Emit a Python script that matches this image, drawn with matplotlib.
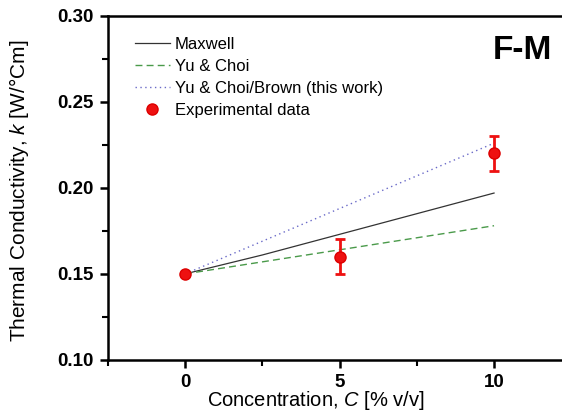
import matplotlib
matplotlib.use("Agg")
from matplotlib import pyplot as plt
from matplotlib.ticker import MultipleLocator

plt.rcParams['font.family'] = ['Liberation Sans', 'DejaVu Sans']
plt.rcParams['mathtext.fontset'] = 'custom'
plt.rcParams['mathtext.rm'] = 'Liberation Sans'
plt.rcParams['mathtext.it'] = 'Liberation Sans:italic'

# 模型曲线
conc_model = [0, 2.5, 5, 7.5, 10]
maxwell = [0.150, 0.161, 0.173, 0.185, 0.197]
yu_choi = [0.150, 0.157, 0.164, 0.171, 0.178]
yu_choi_brown = [0.150, 0.169, 0.188, 0.207, 0.226]

# 实验数据
conc_exp = [0, 5, 10]
k_exp = [0.150, 0.160, 0.220]
k_err = [0.0, 0.010, 0.010]

fig = plt.figure(figsize=(5.62, 4.18), dpi=100)
ax = fig.add_axes([0.192, 0.139, 0.808, 0.823])

ax.plot(conc_model, maxwell, color='#333333', linewidth=0.9, label='Maxwell')
ax.plot(conc_model, yu_choi, color='#4a9a4a', linewidth=1.0, linestyle=(0, (5, 3)), label='Yu & Choi')
ax.plot(conc_model, yu_choi_brown, color='#6a6ac8', linewidth=1.0, linestyle=(0, (1, 2.5)),
        label='Yu & Choi/Brown (this work)')
# 误差棒和数据点分开画，图例里只显示圆点
ax.errorbar(conc_exp, k_exp, yerr=k_err, fmt='none', ecolor='#ee1111',
            elinewidth=2, capsize=3.5, capthick=2)
ax.plot(conc_exp, k_exp, 'o', color='#ee1111', markersize=8, markeredgecolor='#dd0000',
        label='Experimental data')

ax.set_xlim(-2.5, 12.2)
ax.set_ylim(0.10, 0.30)
ax.xaxis.set_major_locator(MultipleLocator(5))
ax.xaxis.set_minor_locator(MultipleLocator(2.5))
ax.yaxis.set_major_locator(MultipleLocator(0.05))
ax.yaxis.set_minor_locator(MultipleLocator(0.025))
ax.yaxis.set_major_formatter(plt.FormatStrFormatter('%.2f'))

for side in ['left', 'bottom', 'top']:
    ax.spines[side].set_linewidth(1.8)
ax.spines['right'].set_visible(False)
ax.tick_params(which='major', direction='out', length=6, width=1.8, labelsize=13.5, pad=4)
ax.tick_params(which='minor', direction='out', length=4, width=1.5)
ax.tick_params(top=False, right=False, which='both')
for lbl in ax.get_xticklabels() + ax.get_yticklabels():
    lbl.set_fontweight('bold')

ax.set_xlabel('Concentration, $\\mathit{C}$ [% v/v]', fontsize=14.5)
ax.set_ylabel('Thermal Conductivity, $\\mathit{k}$ [W/°Cm]', fontsize=15)
ax.xaxis.set_label_coords(0.458, -0.085)
ax.yaxis.set_label_coords(-0.17, 0.49)

ax.legend(loc='upper left', bbox_to_anchor=(0.059, 0.94), frameon=False, fontsize=12,
          borderpad=0, borderaxespad=0, handlelength=2.1, handletextpad=0.3, labelspacing=0.42)
ax.text(0.978, 0.90, 'F-M', transform=ax.transAxes, fontsize=24, fontweight='bold',
        ha='right', va='center')

plt.savefig('out.png', dpi=100)
